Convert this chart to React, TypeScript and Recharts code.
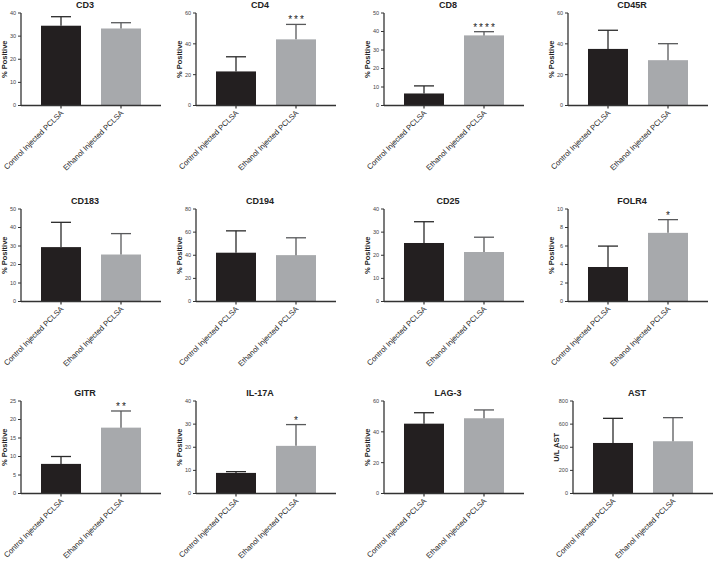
import React from 'react';
import { BarChart, Bar, XAxis, YAxis } from 'recharts';

const markers = ['CD3', 'CD4', 'CD8', 'CD45R', 'CD183', 'CD194', 'CD25', 'FOLR4', 'GITR', 'IL-17A', 'LAG-3', 'AST'];
const groups = ['Control Injected PCLSA', 'Ethanol Injected PCLSA'];
const controlMean = [34.5, 22.1, 6.5, 36.7, 29.4, 42.2, 25.3, 3.73, 8.0, 8.9, 45.3, 437];
const controlErr = [3.9, 9.5, 4.1, 12.1, 13.4, 18.9, 9.2, 2.26, 2.0, 0.56, 7.1, 213];
const ethanolMean = [33.3, 42.9, 37.9, 29.4, 25.4, 40.1, 21.4, 7.42, 17.8, 20.6, 48.8, 452];
const ethanolErr = [2.5, 9.7, 2.0, 10.7, 11.3, 15.0, 6.4, 1.43, 4.5, 9.2, 5.4, 204];
const significance = ['', '***', '****', '', '', '', '', '*', '**', '*', '', ''];
const yTicks = [
  [0, 10, 20, 30, 40],
  [0, 20, 40, 60],
  [0, 10, 20, 30, 40, 50],
  [0, 20, 40, 60],
  [0, 10, 20, 30, 40, 50],
  [0, 20, 40, 60, 80],
  [0, 10, 20, 30, 40],
  [0, 2, 4, 6, 8, 10],
  [0, 5, 10, 15, 20, 25],
  [0, 10, 20, 30, 40],
  [0, 20, 40, 60],
  [0, 200, 400, 600, 800],
];
const yTitles = ['% Positive', '% Positive', '% Positive', '% Positive', '% Positive', '% Positive',
  '% Positive', '% Positive', '% Positive', '% Positive', '% Positive', 'U/L AST'];

// layout
const axisLeft = [21, 196, 384, 568, 21, 196, 384, 568, 21, 196, 384, 573];
const rowTop = [12.5, 209, 401];
const plotW = 140;
const plotH = 92.5;
const yAxisW = 34;
const topM = 16;
const xAxisH = 80;
const barColors = ['#231f20', '#a7a9ac'];
const whiskerColors = ['#2a2a2a', '#58595b'];
const font = '"Liberation Sans", Arial, sans-serif';

function BarShape(props: any) {
  const { x, y, width, height, index, payload } = props;
  const errPx = payload.mean > 0 ? (height * payload.err) / payload.mean : 0;
  const cx = x + width / 2;
  const top = y - errPx;
  return (
    <g>
      <rect x={x} y={y} width={width} height={height} fill={barColors[index]} />
      <line x1={cx} x2={cx} y1={y} y2={top} stroke={whiskerColors[index]} strokeWidth={1.3} />
      <line x1={cx - 10} x2={cx + 10} y1={top} y2={top} stroke={whiskerColors[index]} strokeWidth={1.3} />
      {payload.stars ? (
        <text x={cx + 1} y={top - 1} textAnchor="middle" fontSize={10} letterSpacing={2}
          fill="#222" fontFamily={font}>
          {payload.stars}
        </text>
      ) : null}
    </g>
  );
}

function XTick(props: any) {
  const { x, y, payload } = props;
  return (
    <g transform={`translate(${x},${y})`}>
      <text x={0} y={0} dy={4} textAnchor="end" transform="rotate(-45)" fontSize={7.6}
        fill="#222" fontFamily={font}>
        {payload.value}
      </text>
    </g>
  );
}

function Panel({ i }: { i: number }) {
  const data = [
    { group: groups[0], mean: controlMean[i], err: controlErr[i], stars: '' },
    { group: groups[1], mean: ethanolMean[i], err: ethanolErr[i], stars: significance[i] },
  ];
  const ticks = yTicks[i];
  const left = axisLeft[i] - yAxisW;
  const top = rowTop[Math.floor(i / 4)] - topM;
  return (
    <>
      <div style={{
        position: 'absolute', left: axisLeft[i] - 36, top: rowTop[Math.floor(i / 4)] - 13,
        width: 200, textAlign: 'center', fontSize: 9, fontWeight: 'bold', lineHeight: '11px',
        color: '#222', fontFamily: font,
      }}>
        {markers[i]}
      </div>
      <div style={{ position: 'absolute', left, top }}>
        <BarChart width={yAxisW + plotW + 6} height={topM + plotH + xAxisH} data={data}
          margin={{ top: topM, right: 6, bottom: 0, left: 0 }}>
          <XAxis dataKey="group" height={xAxisH} interval={0} padding={{ left: 10, right: 10 }}
            tick={<XTick />} tickSize={3} tickLine={{ stroke: '#333', strokeWidth: 1.2 }}
            axisLine={{ stroke: '#333', strokeWidth: 1.3 }} />
          <YAxis width={yAxisW} domain={[0, ticks[ticks.length - 1]]} ticks={ticks} interval={0}
            tickSize={3} tickLine={{ stroke: '#333', strokeWidth: 1 }}
            axisLine={{ stroke: '#333', strokeWidth: 1.3 }}
            tick={{ fontSize: 5.5, fill: '#444', fontFamily: font }}
            label={{
              value: yTitles[i], angle: -90, position: 'insideLeft', offset: 17,
              style: { textAnchor: 'middle', fontSize: 7.5, fontWeight: 'bold', fill: '#222', fontFamily: font },
            }} />
          <Bar dataKey="mean" barSize={40} shape={BarShape} isAnimationActive={false} />
        </BarChart>
      </div>
    </>
  );
}

export default function App() {
  return (
    <div style={{ position: 'absolute', left: 0, top: 0, width: 714, height: 561, background: '#fff', fontFamily: font }}>
      {markers.map((_, i) => <Panel key={i} i={i} />)}
    </div>
  );
}
